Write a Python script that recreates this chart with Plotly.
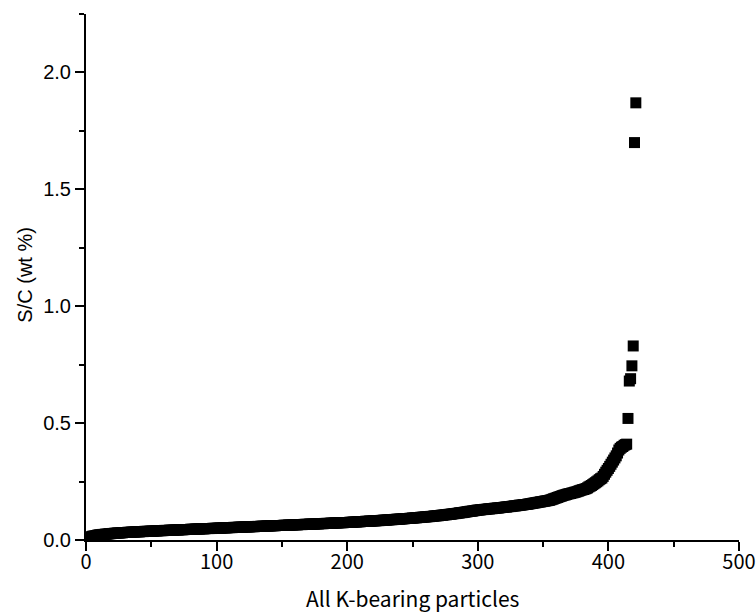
import plotly.graph_objects as go

# S/C ratio (wt %) of all K-bearing particles, sorted ascending
sc_values = [
    0.008, 0.010, 0.012, 0.014, 0.016, 0.017, 0.018, 0.019, 0.021, 0.022,
    0.022, 0.023, 0.024, 0.024, 0.025, 0.025, 0.026, 0.027, 0.027, 0.028,
    0.028, 0.029, 0.029, 0.030, 0.030, 0.030, 0.031, 0.031, 0.032, 0.032,
    0.032, 0.033, 0.033, 0.033, 0.034, 0.034, 0.034, 0.035, 0.035, 0.035,
    0.035, 0.036, 0.036, 0.036, 0.037, 0.037, 0.037, 0.037, 0.038, 0.038,
    0.038, 0.038, 0.039, 0.039, 0.039, 0.040, 0.040, 0.040, 0.040, 0.041,
    0.041, 0.041, 0.041, 0.042, 0.042, 0.042, 0.042, 0.043, 0.043, 0.043,
    0.043, 0.044, 0.044, 0.044, 0.044, 0.045, 0.045, 0.045, 0.045, 0.046,
    0.046, 0.046, 0.046, 0.047, 0.047, 0.047, 0.047, 0.048, 0.048, 0.048,
    0.048, 0.049, 0.049, 0.049, 0.049, 0.049, 0.050, 0.050, 0.050, 0.050,
    0.051, 0.051, 0.051, 0.051, 0.052, 0.052, 0.052, 0.052, 0.053, 0.053,
    0.053, 0.053, 0.054, 0.054, 0.054, 0.054, 0.055, 0.055, 0.055, 0.055,
    0.056, 0.056, 0.056, 0.056, 0.056, 0.057, 0.057, 0.057, 0.057, 0.058,
    0.058, 0.058, 0.058, 0.059, 0.059, 0.059, 0.059, 0.060, 0.060, 0.060,
    0.060, 0.061, 0.061, 0.061, 0.061, 0.062, 0.062, 0.062, 0.062, 0.062,
    0.063, 0.063, 0.063, 0.063, 0.064, 0.064, 0.064, 0.064, 0.065, 0.065,
    0.065, 0.065, 0.066, 0.066, 0.066, 0.066, 0.067, 0.067, 0.067, 0.067,
    0.068, 0.068, 0.068, 0.068, 0.068, 0.069, 0.069, 0.069, 0.070, 0.070,
    0.070, 0.070, 0.071, 0.071, 0.071, 0.071, 0.072, 0.072, 0.072, 0.073,
    0.073, 0.073, 0.073, 0.074, 0.074, 0.074, 0.074, 0.075, 0.075, 0.075,
    0.075, 0.076, 0.076, 0.076, 0.077, 0.077, 0.077, 0.078, 0.078, 0.078,
    0.079, 0.079, 0.079, 0.080, 0.080, 0.080, 0.081, 0.081, 0.081, 0.082,
    0.082, 0.082, 0.083, 0.083, 0.083, 0.084, 0.084, 0.085, 0.085, 0.085,
    0.086, 0.086, 0.087, 0.087, 0.087, 0.088, 0.088, 0.089, 0.089, 0.089,
    0.090, 0.090, 0.091, 0.091, 0.092, 0.092, 0.092, 0.093, 0.093, 0.094,
    0.094, 0.095, 0.095, 0.096, 0.096, 0.097, 0.097, 0.098, 0.098, 0.099,
    0.099, 0.100, 0.100, 0.101, 0.101, 0.102, 0.103, 0.103, 0.104, 0.104,
    0.105, 0.106, 0.106, 0.107, 0.108, 0.108, 0.109, 0.110, 0.110, 0.111,
    0.112, 0.113, 0.113, 0.114, 0.115, 0.116, 0.117, 0.117, 0.118, 0.119,
    0.120, 0.121, 0.122, 0.123, 0.123, 0.124, 0.125, 0.126, 0.127, 0.128,
    0.128, 0.129, 0.130, 0.130, 0.131, 0.131, 0.132, 0.133, 0.133, 0.134,
    0.134, 0.135, 0.136, 0.136, 0.137, 0.137, 0.138, 0.139, 0.139, 0.140,
    0.141, 0.141, 0.142, 0.143, 0.143, 0.144, 0.145, 0.146, 0.146, 0.147,
    0.148, 0.149, 0.149, 0.150, 0.151, 0.152, 0.152, 0.153, 0.154, 0.155,
    0.156, 0.157, 0.158, 0.159, 0.160, 0.161, 0.162, 0.163, 0.164, 0.165,
    0.166, 0.167, 0.168, 0.169, 0.170, 0.172, 0.174, 0.176, 0.178, 0.180,
    0.182, 0.184, 0.186, 0.188, 0.190, 0.192, 0.193, 0.195, 0.197, 0.198,
    0.199, 0.201, 0.202, 0.204, 0.205, 0.207, 0.209, 0.211, 0.213, 0.215,
    0.216, 0.218, 0.220, 0.223, 0.227, 0.230, 0.233, 0.237, 0.241, 0.245,
    0.249, 0.253, 0.258, 0.262, 0.265, 0.272, 0.281, 0.290, 0.298, 0.306,
    0.315, 0.324, 0.333, 0.342, 0.351, 0.360, 0.372, 0.385, 0.392, 0.397,
    0.400, 0.405, 0.408, 0.410, 0.520, 0.680, 0.690, 0.745, 0.830, 1.700, 1.870,
]
particle_rank = list(range(1, len(sc_values) + 1))

x_title = "All K-bearing particles"
y_title = "S/C (wt %)"
x_tickvals = [0, 100, 200, 300, 400, 500]
y_tickvals = [0.0, 0.5, 1.0, 1.5, 2.0]

fig = go.Figure(
    go.Scatter(
        x=particle_rank,
        y=sc_values,
        mode="markers",
        marker=dict(symbol="square", size=11, color="black", line=dict(width=0)),
        showlegend=False,
    )
)

fig.update_layout(
    width=756,
    height=614,
    margin=dict(l=86, r=17, t=14, b=74, autoexpand=False),
    paper_bgcolor="white",
    plot_bgcolor="white",
    annotations=[
        dict(text=x_title, xref="paper", yref="paper", x=0.5, y=-0.11,
             xanchor="center", yanchor="middle", showarrow=False,
             font=dict(family="Noto Sans CJK JP, sans-serif", size=21, color="black")),
        dict(text=y_title, xref="paper", yref="paper", x=-0.093, y=0.505,
             xanchor="center", yanchor="middle", textangle=-90, showarrow=False,
             font=dict(family="Liberation Sans, Arial, sans-serif", size=20, color="black")),
    ],
)

fig.update_xaxes(
    range=[0, 500],
    tickvals=x_tickvals,
    ticks="outside",
    ticklen=9,
    tickwidth=2,
    tickcolor="black",
    showline=True,
    linecolor="black",
    linewidth=2,
    showgrid=False,
    zeroline=False,
    automargin=False,
    ticklabelstandoff=-6,
    minor=dict(dtick=50, ticks="outside", ticklen=5, tickwidth=2, tickcolor="black"),
    tickfont=dict(family="Noto Sans CJK JP, sans-serif", size=20, color="black"),
)

fig.update_yaxes(
    range=[0, 2.25],
    tickvals=y_tickvals,
    tickformat=".1f",
    ticks="outside",
    ticklen=9,
    tickwidth=2,
    tickcolor="black",
    showline=True,
    linecolor="black",
    linewidth=2,
    showgrid=False,
    zeroline=False,
    automargin=False,
    minor=dict(dtick=0.25, ticks="outside", ticklen=5, tickwidth=2, tickcolor="black"),
    tickfont=dict(family="Liberation Sans, Arial, sans-serif", size=20, color="black"),
)

fig.write_html("out.html")
